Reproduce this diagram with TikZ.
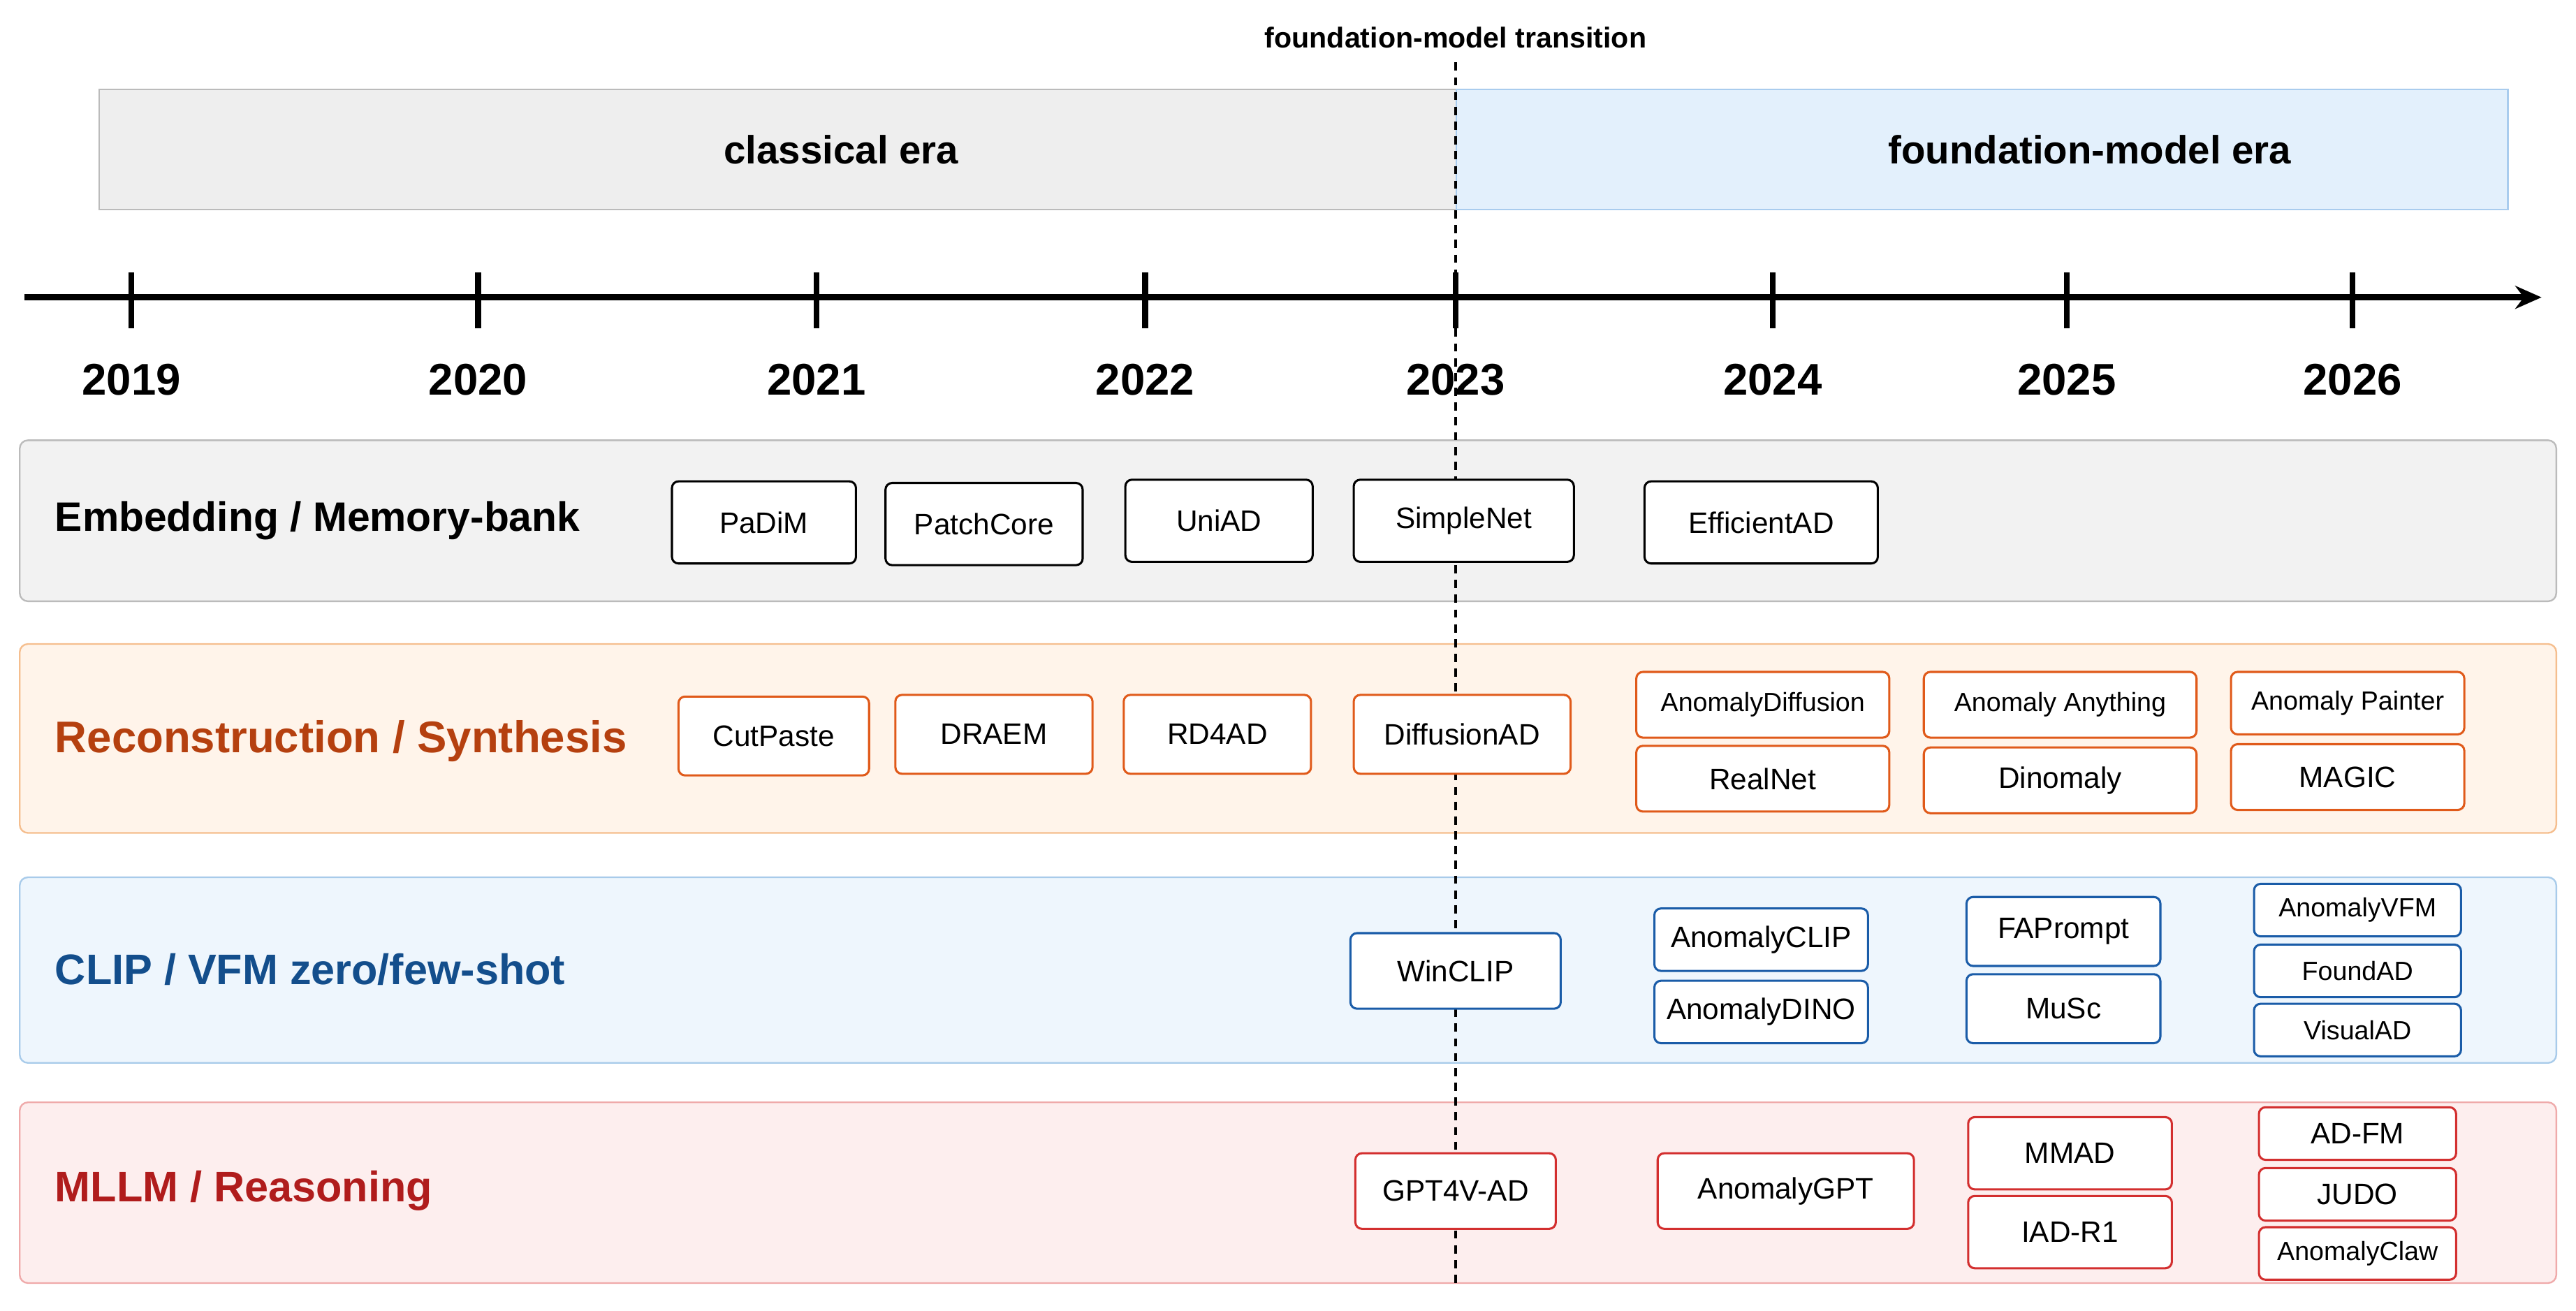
\documentclass[tikz,border=0pt]{standalone}
\usepackage{fontspec}
\setmainfont{Liberation Sans}
\usetikzlibrary{arrows.meta}
\definecolor{lanegray}{HTML}{F2F2F2}
\definecolor{lanegrayb}{HTML}{BBBBBB}
\definecolor{laneorg}{HTML}{FFF4EA}
\definecolor{laneorgb}{HTML}{F5BE8E}
\definecolor{laneblu}{HTML}{EEF6FD}
\definecolor{laneblub}{HTML}{A8CBEA}
\definecolor{lanered}{HTML}{FDEEEE}
\definecolor{laneredb}{HTML}{EFAAAA}
\definecolor{txtorg}{HTML}{B5400F}
\definecolor{txtblu}{HTML}{134E8C}
\definecolor{txtred}{HTML}{B01C1C}
\definecolor{boxorg}{HTML}{E05A1A}
\definecolor{boxblu}{HTML}{1A5CA8}
\definecolor{boxred}{HTML}{D32F2F}
\definecolor{eragray}{HTML}{EEEEEE}
\definecolor{erablu}{HTML}{E3F0FC}
\definecolor{erablub}{HTML}{A9CCEE}

\begin{document}
\begin{tikzpicture}[x=1pt,y=-1pt
	,lane/.style={draw,rounded corners=5pt,line width=1pt}
	,lanelabel/.style={anchor=west,font=\fontsize{25}{28}\selectfont\bfseries}
	,method/.style={draw,fill=white,rounded corners=4pt,line width=1.3pt,
              inner sep=0pt,font=\fontsize{18}{20}\selectfont}
	,small/.style={font=\fontsize{16}{18}\selectfont}]
  \useasboundingbox (0,0) rectangle (1568,798);

  % eras
  \node[draw=lanegrayb,fill=eragray,minimum width=826,minimum height=73,
        inner sep=0pt,anchor=north west,line width=1pt] (classical) at (60,54) {};
  \node[draw=erablub,fill=erablu,minimum width=640,minimum height=73,
        inner sep=0pt,anchor=north west,line width=1pt] (foundation) at (886,54) {};
  \node[font=\fontsize{24}{26}\selectfont\bfseries] (classicallbl) at (512,91) {classical era};
  \node[font=\fontsize{24}{26}\selectfont\bfseries] (foundationlbl) at (1272,91) {foundation-model era};
  \node[font=\fontsize{17.5}{19}\selectfont\bfseries] (translbl) at (886,23) {foundation-model transition};

  % axis
  \coordinate (axl) at (15,181);
  \coordinate (axr) at (1547,181);
  \draw[line width=4pt,-{Stealth[length=16pt,width=14pt]}] (axl) -- (axr);
  \foreach \x/\yr in {80/2019,291/2020,497/2021,697/2022,886/2023,1079/2024,1258/2025,1432/2026}
  {
    \draw[line width=3.5pt] (\x,166) -- (\x,200);
    \node[font=\fontsize{27}{29}\selectfont\bfseries] (y\yr) at (\x,231) {\yr};
  }

  % lanes
  \draw[lane,draw=lanegrayb,fill=lanegray] (12,268) rectangle (1556,366);
  \draw[lane,draw=laneorgb,fill=laneorg] (12,392) rectangle (1556,507);
  \draw[lane,draw=laneblub,fill=laneblu] (12,534) rectangle (1556,647);
  \draw[lane,draw=laneredb,fill=lanered] (12,671) rectangle (1556,781);
  \node[lanelabel] (embl) at (30,317) {Embedding / Memory-bank};
  \node[lanelabel,text=txtorg,font=\fontsize{27}{29}\selectfont\bfseries] (recl) at (30,451) {Reconstruction / Synthesis};
  \node[lanelabel,text=txtblu,font=\fontsize{26}{28}\selectfont\bfseries] (clipl) at (30,590) {CLIP / VFM zero/few-shot};
  \node[lanelabel,text=txtred,font=\fontsize{26}{28}\selectfont\bfseries] (mllml) at (30,725) {MLLM / Reasoning};

  % transition
  \coordinate (tt) at (886,38);
  \coordinate (tb) at (886,782);
  \draw[dashed,line width=1.6pt,dash pattern=on 5pt off 4pt] (tt) -- (tb);

  % embedding
  \node[method,minimum width=112,minimum height=50] (padim) at (465,318) {PaDiM};
  \node[method,minimum width=120,minimum height=50] (patchcore) at (599,319) {PatchCore};
  \node[method,minimum width=114,minimum height=50] (uniad) at (742,317) {UniAD};
  \node[method,minimum width=134,minimum height=50] (simplenet) at (891,317) {SimpleNet};
  \node[method,minimum width=142,minimum height=50] (efficientad) at (1072,318) {EfficientAD};
  % reconstruction
  \node[method,draw=boxorg,minimum width=116,minimum height=48] (cutpaste) at (471,448) {CutPaste};
  \node[method,draw=boxorg,minimum width=120,minimum height=48] (draem) at (605,447) {DRAEM};
  \node[method,draw=boxorg,minimum width=114,minimum height=48] (rdad) at (741,447) {RD4AD};
  \node[method,draw=boxorg,minimum width=132,minimum height=48] (diffusionad) at (890,447) {DiffusionAD};
  \node[method,small,draw=boxorg,minimum width=154,minimum height=40] (anodiff) at (1073,429) {AnomalyDiffusion};
  \node[method,draw=boxorg,minimum width=154,minimum height=40] (realnet) at (1073,474) {RealNet};
  \node[method,small,draw=boxorg,minimum width=166,minimum height=40] (anoany) at (1254,429) {Anomaly Anything};
  \node[method,draw=boxorg,minimum width=166,minimum height=40] (dinomaly) at (1254,475) {Dinomaly};
  \node[method,small,draw=boxorg,minimum width=142,minimum height=38] (anopaint) at (1429,428) {Anomaly Painter};
  \node[method,draw=boxorg,minimum width=142,minimum height=40] (magic) at (1429,473) {MAGIC};
  % clip / vfm
  \node[method,draw=boxblu,minimum width=128,minimum height=46] (winclip) at (886,591) {WinCLIP};
  \node[method,draw=boxblu,minimum width=130,minimum height=38] (anoclip) at (1072,572) {AnomalyCLIP};
  \node[method,draw=boxblu,minimum width=130,minimum height=38] (anodino) at (1072,616) {AnomalyDINO};
  \node[method,draw=boxblu,minimum width=118,minimum height=42] (faprompt) at (1256,567) {FAPrompt};
  \node[method,draw=boxblu,minimum width=118,minimum height=42] (musc) at (1256,614) {MuSc};
  \node[method,small,draw=boxblu,minimum width=126,minimum height=32] (anovfm) at (1435,554) {AnomalyVFM};
  \node[method,small,draw=boxblu,minimum width=126,minimum height=32] (foundad) at (1435,591) {FoundAD};
  \node[method,small,draw=boxblu,minimum width=126,minimum height=32] (visualad) at (1435,627) {VisualAD};
  % mllm
  \node[method,draw=boxred,minimum width=122,minimum height=46] (gptad) at (886,725) {GPT4V-AD};
  \node[method,draw=boxred,minimum width=156,minimum height=46] (anogpt) at (1087,725) {AnomalyGPT};
  \node[method,draw=boxred,minimum width=124,minimum height=44] (mmad) at (1260,702) {MMAD};
  \node[method,draw=boxred,minimum width=124,minimum height=44] (iadr) at (1260,750) {IAD-R1};
  \node[method,draw=boxred,minimum width=120,minimum height=32] (adfm) at (1435,690) {AD-FM};
  \node[method,draw=boxred,minimum width=120,minimum height=32] (judo) at (1435,727) {JUDO};
  \node[method,small,draw=boxred,minimum width=120,minimum height=32] (anoclaw) at (1435,763) {AnomalyClaw};
\end{tikzpicture}
\end{document}
